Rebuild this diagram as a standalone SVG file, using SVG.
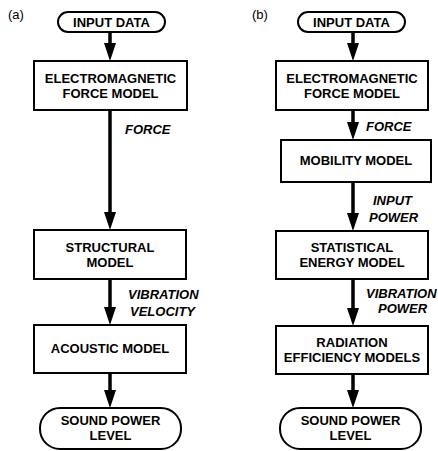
<svg xmlns="http://www.w3.org/2000/svg" width="438" height="451" viewBox="0 0 438 451">
<style>
.box{fill:#fff;stroke:#000;stroke-width:2}
.t{font-family:"Liberation Sans",Arial,sans-serif;font-weight:bold;font-size:13px;text-anchor:middle;fill:#000}
.l{font-family:"Liberation Sans",Arial,sans-serif;font-weight:bold;font-style:italic;font-size:13px;fill:#000}
.p{font-family:"Liberation Sans",Arial,sans-serif;font-size:13px;fill:#000}
.c{stroke:#000;stroke-width:3.5;fill:none;marker-end:url(#ah)}
</style>
<defs>
<marker id="ah" viewBox="0 0 18 12" markerWidth="18" markerHeight="12" refX="8" refY="6" orient="auto" markerUnits="userSpaceOnUse">
<path d="M0,0 L18,6 L0,12 Z" fill="#000"/>
</marker>
</defs>
<text class="p" x="8" y="19">(a)</text>
<text class="p" x="252" y="19">(b)</text>
<g id="connectors">
<line class="c" x1="110" y1="31" x2="110" y2="51"/>
<line class="c" x1="110" y1="110" x2="110" y2="220"/>
<line class="c" x1="110" y1="279" x2="110" y2="315"/>
<line class="c" x1="110" y1="373" x2="110" y2="398"/>
<line class="c" x1="353" y1="31" x2="353" y2="51"/>
<line class="c" x1="353" y1="110" x2="353" y2="130"/>
<line class="c" x1="353" y1="182" x2="353" y2="221"/>
<line class="c" x1="353" y1="279" x2="353" y2="316"/>
<line class="c" x1="353" y1="374" x2="353" y2="398"/>
<text class="l" x="125" y="134">FORCE</text>
<text class="l" x="128" y="299">VIBRATION</text>
<text class="l" x="130" y="316">VELOCITY</text>
<text class="l" x="366" y="131">FORCE</text>
<text class="l" x="373" y="205">INPUT</text>
<text class="l" x="369" y="222">POWER</text>
<text class="l" x="366" y="298">VIBRATION</text>
<text class="l" x="378" y="313">POWER</text>
</g>
<g id="a-input">
<rect class="box" x="58" y="12" width="107" height="20" rx="10"/>
<text class="t" x="111.5" y="26.5">INPUT DATA</text>
</g>
<g id="a-em">
<rect class="box" x="34" y="61" width="153" height="49"/>
<text class="t" x="110.5" y="83">ELECTROMAGNETIC</text>
<text class="t" x="110.5" y="98">FORCE MODEL</text>
</g>
<g id="a-struct">
<rect class="box" x="34" y="230" width="152" height="49"/>
<text class="t" x="110" y="252">STRUCTURAL</text>
<text class="t" x="110" y="267">MODEL</text>
</g>
<g id="a-acoustic">
<rect class="box" x="34" y="325" width="152" height="48"/>
<text class="t" x="110" y="353">ACOUSTIC MODEL</text>
</g>
<g id="a-sound">
<rect class="box" x="40" y="408" width="141" height="41" rx="20"/>
<text class="t" x="110.5" y="425">SOUND POWER</text>
<text class="t" x="110.5" y="440">LEVEL</text>
</g>
<g id="b-input">
<rect class="box" x="298" y="12" width="107" height="20" rx="10"/>
<text class="t" x="351.5" y="26.5">INPUT DATA</text>
</g>
<g id="b-em">
<rect class="box" x="276" y="61" width="152" height="49"/>
<text class="t" x="352" y="83">ELECTROMAGNETIC</text>
<text class="t" x="352" y="98">FORCE MODEL</text>
</g>
<g id="b-mobility">
<rect class="box" x="281" y="140" width="150" height="42"/>
<text class="t" x="356" y="165">MOBILITY MODEL</text>
</g>
<g id="b-sem">
<rect class="box" x="276" y="231" width="152" height="48"/>
<text class="t" x="352" y="252">STATISTICAL</text>
<text class="t" x="352" y="267">ENERGY MODEL</text>
</g>
<g id="b-radiation">
<rect class="box" x="276" y="326" width="152" height="48"/>
<text class="t" x="352" y="347">RADIATION</text>
<text class="t" x="352" y="362">EFFICIENCY MODELS</text>
</g>
<g id="b-sound">
<rect class="box" x="280" y="408" width="141" height="41" rx="20"/>
<text class="t" x="350.5" y="425">SOUND POWER</text>
<text class="t" x="350.5" y="440">LEVEL</text>
</g>
</svg>
